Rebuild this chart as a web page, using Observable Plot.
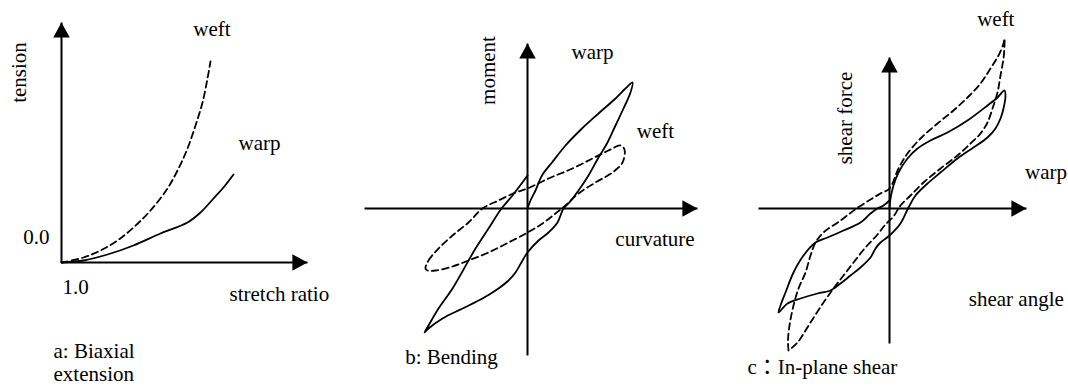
<!DOCTYPE html>
<html><head><meta charset="utf-8">
<script src="https://cdn.jsdelivr.net/npm/d3@7"></script>
<script src="https://cdn.jsdelivr.net/npm/@observablehq/plot@0.6"></script>
<style>
html,body{margin:0;padding:0;background:#fff;}
#wrap{position:relative;width:1068px;height:387px;overflow:hidden;background:#fff;}
#wrap svg{position:absolute;top:0;}
</style></head><body><div id="wrap"></div>
<script>
// ---------- Panel a: biaxial extension (x = stretch ratio, y = tension) ----------
const aWeft = [[1.000,0],[1.044,0.05],[1.078,0.12],[1.112,0.22],[1.144,0.35],[1.178,0.52],[1.212,0.74],[1.234,0.94],[1.252,1.14],[1.268,1.37],[1.282,1.60],[1.292,1.84],[1.298,2.01]];
const aWarp = [[1,0],[1.044,0.02],[1.092,0.08],[1.144,0.17],[1.198,0.29],[1.252,0.40],[1.278,0.50],[1.304,0.64],[1.324,0.75],[1.344,0.88]];
const aAxes = [{x1:1, y1:0, x2:1.492, y2:0, dir:"right"}, {x1:1, y1:0, x2:1, y2:2.40, dir:"up"}];
const aLabels = [
  {text:"weft", x:1.301, y:2.27, anchor:"middle"},
  {text:"warp", x:1.396, y:1.13, anchor:"middle"},
  {text:"0.0", x:0.976, y:0.19, anchor:"end"},
  {text:"1.0", x:1.002, y:-0.31, anchor:"start"},
  {text:"stretch ratio", x:1.336, y:-0.38, anchor:"start"},
  {text:"a: Biaxial", x:0.984, y:-0.95, anchor:"start"},
  {text:"extension", x:0.984, y:-1.18, anchor:"start"}
];
const aRot = [{text:"tension", x:0.928, y:1.90}];

// ---------- Panel b: bending (x = curvature, y = moment) ----------
const bWarp = [[0,0],[0.03,0.08],[0.08,0.18],[0.145,0.33],[0.245,0.46],[0.38,0.63],[0.545,0.80],[0.71,0.95],[0.88,1.10],[0.98,1.20],[1.05,1.26],[1.03,1.16],[0.96,1.0],[0.88,0.83],[0.80,0.66],[0.71,0.51],[0.61,0.33],[0.51,0.18],[0.41,0.05],[0.36,0],[0.30,-0.14],[0.21,-0.24],[0.11,-0.32],[0,-0.44],[-0.05,-0.52],[-0.12,-0.64],[-0.19,-0.72],[-0.29,-0.80],[-0.45,-0.90],[-0.65,-1.0],[-0.85,-1.10],[-0.99,-1.20],[-1.03,-1.24],[-0.99,-1.17],[-0.89,-1.0],[-0.75,-0.80],[-0.52,-0.40],[-0.39,-0.20],[-0.26,0],[-0.15,0.13],[0,0.33]];
const bWeft = [[-1.02,-0.60],[-0.99,-0.52],[-0.89,-0.40],[-0.75,-0.27],[-0.59,-0.14],[-0.45,0],[-0.29,0.08],[-0.12,0.16],[0,0.20],[0.21,0.30],[0.45,0.40],[0.65,0.50],[0.81,0.58],[0.93,0.63],[0.97,0.59],[0.95,0.46],[0.85,0.36],[0.68,0.26],[0.51,0.15],[0.38,0.03],[0.28,-0.05],[0.15,-0.15],[0,-0.24],[-0.19,-0.34],[-0.39,-0.44],[-0.59,-0.52],[-0.75,-0.58],[-0.92,-0.62],[-1.0,-0.62]];
const bAxes = [{x1:-1.63, y1:0, x2:1.70, y2:0, dir:"right"}, {x1:0, y1:-1.47, x2:0, y2:1.65, dir:"up"}];
const bLabels = [
  {text:"warp", x:0.65, y:1.50, anchor:"middle"},
  {text:"weft", x:1.28, y:0.71, anchor:"middle"},
  {text:"curvature", x:1.275, y:-0.37, anchor:"middle"},
  {text:"b: Bending", x:-0.76, y:-1.55, anchor:"middle"}
];
const bRot = [{text:"moment", x:-0.33, y:1.38}];

// ---------- Panel c: in-plane shear (x = shear angle, y = shear force) ----------
const cWarp = [[0,0],[0.01,0.10],[0.04,0.23],[0.09,0.36],[0.18,0.50],[0.28,0.60],[0.41,0.68],[0.58,0.76],[0.78,0.88],[0.98,1.03],[1.08,1.11],[1.15,1.18],[1.16,1.13],[1.14,1.00],[1.11,0.90],[1.06,0.80],[0.98,0.71],[0.84,0.61],[0.68,0.50],[0.51,0.36],[0.38,0.25],[0.26,0.13],[0.19,0.01],[0.11,-0.15],[0,-0.27],[-0.09,-0.34],[-0.14,-0.40],[-0.19,-0.49],[-0.29,-0.59],[-0.39,-0.67],[-0.49,-0.75],[-0.59,-0.82],[-0.72,-0.85],[-0.89,-0.90],[-1.02,-0.95],[-1.11,-1.04],[-1.09,-0.97],[-1.04,-0.84],[-0.96,-0.64],[-0.86,-0.47],[-0.74,-0.34],[-0.62,-0.29],[-0.46,-0.22],[-0.29,-0.14],[-0.19,-0.05],[-0.12,0],[-0.06,0.03],[0,0.08]];
const cWeft = [[-1.01,-1.42],[-1.015,-1.32],[-1.00,-1.17],[-0.96,-0.97],[-0.91,-0.80],[-0.84,-0.64],[-0.79,-0.47],[-0.74,-0.34],[-0.66,-0.24],[-0.49,-0.12],[-0.33,0],[-0.19,0.09],[-0.09,0.15],[0,0.20],[0.09,0.40],[0.18,0.55],[0.31,0.70],[0.48,0.85],[0.64,0.98],[0.78,1.11],[0.91,1.25],[1.01,1.40],[1.09,1.53],[1.14,1.65],[1.15,1.70],[1.15,1.63],[1.14,1.50],[1.11,1.33],[1.08,1.16],[1.03,1.00],[0.98,0.86],[0.91,0.75],[0.81,0.65],[0.68,0.53],[0.51,0.40],[0.34,0.26],[0.21,0.13],[0.11,0.03],[0.04,-0.08],[-0.04,-0.16],[-0.12,-0.26],[-0.24,-0.39],[-0.36,-0.54],[-0.46,-0.67],[-0.56,-0.80],[-0.66,-0.94],[-0.79,-1.14],[-0.92,-1.34],[-1.01,-1.42]];
const cAxes = [{x1:-1.31, y1:0, x2:1.37, y2:0, dir:"right"}, {x1:0, y1:-1.35, x2:0, y2:1.51, dir:"up"}];
const cLabels = [
  {text:"weft", x:1.063, y:1.83, anchor:"middle"},
  {text:"warp", x:1.565, y:0.30, anchor:"middle"},
  {text:"shear angle", x:1.268, y:-0.97, anchor:"middle"},
  {text:"c\uFF1AIn-plane shear", x:-1.42, y:-1.65, anchor:"start"}
];
const cRot = [{text:"shear force", x:-0.375, y:0.905}];

// ---------- drawing ----------
const FONT = "Liberation Serif, Noto Sans CJK JP, serif";
const tipUp = {draw(ctx, size){ const r = Math.sqrt(size/Math.PI); ctx.moveTo(0,0); ctx.lineTo(-1.15*r, 2.1*r); ctx.lineTo(1.15*r, 2.1*r); ctx.closePath(); }};
const tipRight = {draw(ctx, size){ const r = Math.sqrt(size/Math.PI); ctx.moveTo(0,0); ctx.lineTo(-2.1*r, -1.15*r); ctx.lineTo(-2.1*r, 1.15*r); ctx.closePath(); }};

function panel({left, width, xDomain, yDomain, axes, solid, dashed, dashedClosed, labels, rot}) {
  const textOpts = {x:"x", y:"y", text:"text", lineAnchor:"bottom", fontSize:21, fontFamily:FONT, fill:"black"};
  const marks = [
    Plot.link(axes, {x1:"x1", y1:"y1", x2:"x2", y2:"y2", stroke:"black", strokeWidth:2}),
    Plot.dot(axes.filter(d => d.dir === "up"), {x:"x2", y:"y2", symbol: tipUp, r: 7.2, fill:"black", stroke:"none"}),
    Plot.dot(axes.filter(d => d.dir === "right"), {x:"x2", y:"y2", symbol: tipRight, r: 7.2, fill:"black", stroke:"none"}),
    Plot.line(dashed, {x: d => d[0], y: d => d[1], curve: dashedClosed ? "catmull-rom-closed" : "catmull-rom", stroke:"black", strokeWidth:1.8, strokeDasharray:"6.5,4"}),
    Plot.line(solid, {x: d => d[0], y: d => d[1], curve:"catmull-rom", stroke:"black", strokeWidth:1.8}),
    ...["start","middle","end"].map(a => Plot.text(labels.filter(d => d.anchor === a), {...textOpts, textAnchor:a})),
    Plot.text(rot, {...textOpts, rotate:-90, textAnchor:"middle"})
  ];
  const svg = Plot.plot({
    width, height: 387, margin: 0,
    x: {domain: xDomain, axis: null},
    y: {domain: yDomain, axis: null},
    style: {background: "transparent", overflow: "visible", fontFamily: FONT},
    marks
  });
  svg.style.left = left + "px";
  document.getElementById("wrap").appendChild(svg);
}

panel({left:0, width:320, xDomain:[0.878, 1.518], yDomain:[-1.25, 2.62], axes:aAxes, solid:aWarp, dashed:aWeft, dashedClosed:false, labels:aLabels, rot:aRot});
panel({left:320, width:400, xDomain:[-2.07, 1.93], yDomain:[-1.79, 2.08], axes:bAxes, solid:bWarp, dashed:bWeft, dashedClosed:true, labels:bLabels, rot:bRot});
panel({left:720, width:348, xDomain:[-1.69, 1.79], yDomain:[-1.79, 2.08], axes:cAxes, solid:cWarp, dashed:cWeft, dashedClosed:false, labels:cLabels, rot:cRot});
</script></body></html>
